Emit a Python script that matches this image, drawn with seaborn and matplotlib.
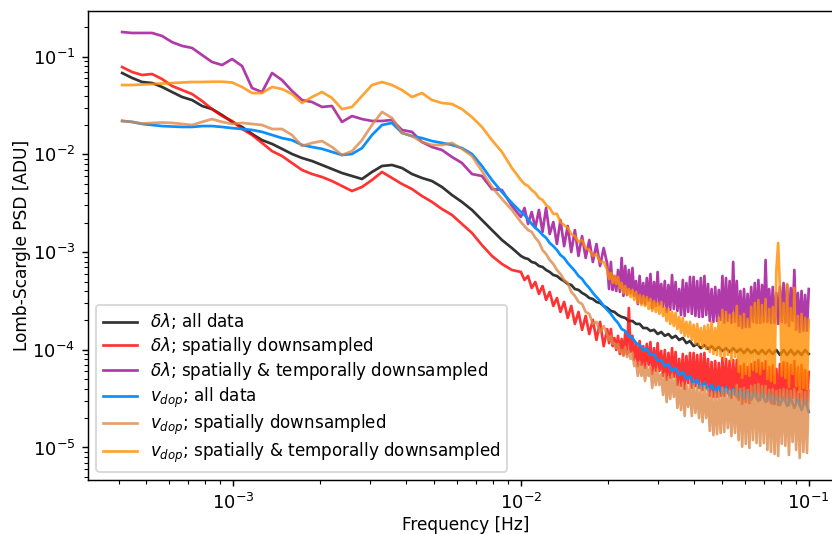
import matplotlib
matplotlib.use("Agg")
import matplotlib.pyplot as plt
import seaborn as sns
import pandas as pd

# ---------------- data ----------------
# frequency grid used by the smoother curves
freq = [4.117e-4, 4.460e-4, 4.831e-4, 5.233e-4, 5.668e-4, 6.140e-4, 6.651e-4, 7.204e-4, 7.804e-4, 8.453e-4,
        9.158e-4, 9.920e-4, 1.0745e-3, 1.164e-3, 1.261e-3, 1.366e-3, 1.479e-3, 1.602e-3, 1.736e-3, 1.880e-3,
        2.037e-3, 2.206e-3, 2.390e-3, 2.589e-3, 2.804e-3, 3.038e-3, 3.291e-3, 3.565e-3, 3.861e-3, 4.183e-3,
        4.531e-3, 4.909e-3, 5.317e-3, 5.760e-3, 6.239e-3, 6.759e-3, 7.321e-3, 7.931e-3, 8.591e-3, 9.306e-3,
        0.01000, 0.01029, 0.01059, 0.01090, 0.01122, 0.01155, 0.01189, 0.01223, 0.01259, 0.01296,
        0.01334, 0.01372, 0.01413, 0.01454, 0.01496, 0.01540, 0.01585, 0.01631, 0.01679, 0.01728,
        0.01778, 0.01830, 0.01884, 0.01939, 0.01995, 0.02054, 0.02113, 0.02175, 0.02239, 0.02304,
        0.02371, 0.02441, 0.02512, 0.02585, 0.02661, 0.02738, 0.02818, 0.02901, 0.02985, 0.03073,
        0.03162, 0.03255, 0.03350, 0.03447, 0.03548, 0.03652, 0.03758, 0.03868, 0.03981, 0.04097,
        0.04217, 0.04340, 0.04467, 0.04597, 0.04732, 0.04870, 0.05012, 0.05158, 0.05309, 0.05464,
        0.05623, 0.05788, 0.05957, 0.06131, 0.06310, 0.06494, 0.06683, 0.06879, 0.07080, 0.07286,
        0.07499, 0.07718, 0.07943, 0.08175, 0.08414, 0.08660, 0.08913, 0.09173, 0.09441, 0.09716,
        0.10000]

# finer frequency grid used by the noisy curves
freq_fine = [4.117e-4, 4.460e-4, 4.831e-4, 5.233e-4, 5.668e-4, 6.140e-4, 6.651e-4, 7.204e-4, 7.804e-4, 8.453e-4,
             9.158e-4, 9.920e-4, 1.0745e-3, 1.164e-3, 1.261e-3, 1.366e-3, 1.479e-3, 1.602e-3, 1.736e-3, 1.880e-3,
             2.037e-3, 2.206e-3, 2.390e-3, 2.589e-3, 2.804e-3, 3.038e-3, 3.291e-3, 3.565e-3, 3.861e-3, 4.183e-3,
             4.531e-3, 4.909e-3, 5.317e-3, 5.760e-3, 6.239e-3, 6.759e-3, 7.321e-3, 7.931e-3, 8.591e-3, 9.306e-3,
             0.01000, 0.01029, 0.01059, 0.01090, 0.01122, 0.01155, 0.01189, 0.01223, 0.01259, 0.01296,
             0.01334, 0.01372, 0.01413, 0.01454, 0.01496, 0.01540, 0.01585, 0.01631, 0.01679, 0.01728,
             0.01778, 0.01830, 0.01884, 0.01939,
             0.01995, 0.02024, 0.02054, 0.02083, 0.02113, 0.02144, 0.02175, 0.02207, 0.02239, 0.02271,
             0.02304, 0.02338, 0.02371, 0.02406, 0.02441, 0.02476, 0.02512, 0.02548, 0.02585, 0.02623,
             0.02661, 0.02699, 0.02738, 0.02778, 0.02818, 0.02859, 0.02901, 0.02943, 0.02985, 0.03029,
             0.03073, 0.03117, 0.03162, 0.03208, 0.03255, 0.03302, 0.03350, 0.03398, 0.03447, 0.03497,
             0.03548, 0.03600, 0.03652, 0.03705, 0.03758, 0.03813, 0.03868, 0.03924, 0.03981, 0.04039,
             0.04097, 0.04157, 0.04217, 0.04278, 0.04340, 0.04403, 0.04467, 0.04532, 0.04597, 0.04664,
             0.04732, 0.04800, 0.04870, 0.04941, 0.05012, 0.05085, 0.05158, 0.05233, 0.05309, 0.05386,
             0.05464, 0.05543, 0.05623, 0.05705, 0.05788, 0.05872, 0.05957, 0.06043, 0.06131, 0.06220,
             0.06310, 0.06402, 0.06494, 0.06589, 0.06683, 0.06780, 0.06879, 0.06979, 0.07080, 0.07183,
             0.07286, 0.07392, 0.07499, 0.07608, 0.07718, 0.07830, 0.07943, 0.08058, 0.08175, 0.08294,
             0.08414, 0.08536, 0.08660, 0.08785, 0.08913, 0.09042, 0.09173, 0.09306, 0.09441, 0.09578,
             0.09716, 0.09857, 0.10000]

dl_all = [0.0681, 0.0606, 0.0551, 0.0538, 0.0490, 0.0435, 0.0387, 0.0360, 0.0313, 0.0291,
          0.0253, 0.0215, 0.0191, 0.0162, 0.0140, 0.0128, 0.0114, 0.0101, 0.00919, 0.00856,
          0.00779, 0.00709, 0.00645, 0.00601, 0.00560, 0.00661, 0.00761, 0.00779, 0.00726, 0.00630,
          0.00574, 0.00534, 0.00464, 0.00384, 0.00326, 0.00270, 0.00213, 0.00168, 0.00133, 0.00110,
          9.13e-4, 8.71e-4, 8.50e-4, 7.92e-4, 7.74e-4, 7.21e-4, 7.04e-4, 6.56e-4, 6.26e-4, 5.83e-4,
          5.70e-4, 5.31e-4, 5.06e-4, 4.72e-4, 4.61e-4, 4.19e-4, 4.10e-4, 3.82e-4, 3.64e-4, 3.39e-4,
          3.31e-4, 3.09e-4, 3.02e-4, 2.81e-4, 2.68e-4, 2.50e-4, 2.44e-4, 2.27e-4, 2.17e-4, 2.12e-4,
          1.97e-4, 1.97e-4, 1.84e-4, 1.84e-4, 1.67e-4, 1.67e-4, 1.56e-4, 1.60e-4, 1.45e-4, 1.52e-4,
          1.39e-4, 1.45e-4, 1.32e-4, 1.39e-4, 1.26e-4, 1.32e-4, 1.17e-4, 1.23e-4, 1.09e-4, 1.15e-4,
          1.04e-4, 1.12e-4, 1.02e-4, 1.09e-4, 9.95e-5, 1.07e-4, 9.73e-5, 1.04e-4, 9.50e-5, 1.04e-4,
          9.50e-5, 1.02e-4, 9.28e-5, 1.02e-4, 9.28e-5, 9.95e-5, 9.06e-5, 9.95e-5, 9.06e-5, 9.95e-5,
          9.06e-5, 9.95e-5, 8.85e-5, 9.95e-5, 8.85e-5, 9.95e-5, 8.85e-5, 9.73e-5, 8.85e-5, 9.95e-5,
          9.06e-5]

dl_spat = [0.0784, 0.0697, 0.0650, 0.0665, 0.0591, 0.0501, 0.0456, 0.0415, 0.0352, 0.0291,
           0.0247, 0.0220, 0.0182, 0.0158, 0.0131, 0.0108, 0.00963, 0.00817, 0.00692, 0.00630,
           0.00587, 0.00534, 0.00475, 0.00422, 0.00464, 0.00547, 0.00661, 0.00574, 0.00498, 0.00442,
           0.00375, 0.00326, 0.00276, 0.00240, 0.00194, 0.00157, 0.00118, 9.13e-4, 7.56e-4, 6.56e-4,
           6.26e-4, 5.18e-4, 5.70e-4, 4.29e-4, 4.94e-4, 3.73e-4, 4.50e-4, 3.24e-4, 3.91e-4, 2.81e-4,
           3.39e-4, 2.44e-4, 3.09e-4, 2.12e-4, 2.81e-4, 1.84e-4, 2.44e-4, 1.60e-4, 2.22e-4, 1.45e-4,
           2.02e-4, 1.26e-4, 1.93e-4, 1.09e-4,
           1.63e-4, 1.17e-4, 1.63e-4, 1.09e-4, 1.32e-4, 9.95e-5, 1.39e-4, 9.06e-5, 1.29e-4, 8.85e-5,
           1.49e-4, 9.06e-5, 2.68e-4, 9.50e-5, 1.39e-4, 7.87e-5, 1.17e-4, 6.83e-5, 1.23e-4, 6.99e-5,
           1.09e-4, 6.52e-5, 1.15e-4, 6.99e-5, 1.20e-4, 5.65e-5, 1.04e-4, 6.07e-5, 1.17e-4, 6.07e-5,
           9.72e-5, 5.40e-5, 9.95e-5, 4.91e-5, 9.28e-5, 5.15e-5, 1.04e-4, 5.28e-5, 9.50e-5, 4.36e-5,
           8.06e-5, 4.26e-5, 9.06e-5, 3.97e-5, 8.64e-5, 4.57e-5, 9.28e-5, 4.07e-5, 9.28e-5, 4.26e-5,
           8.85e-5, 4.07e-5, 9.06e-5, 3.88e-5, 9.28e-5, 4.07e-5, 8.06e-5, 3.37e-5, 7.50e-5, 3.29e-5,
           7.68e-5, 3.29e-5, 7.33e-5, 3.37e-5, 8.25e-5, 3.37e-5, 8.06e-5, 3.62e-5, 7.68e-5, 3.21e-5,
           7.87e-5, 3.45e-5, 7.87e-5, 3.07e-5, 6.83e-5, 2.79e-5, 7.16e-5, 2.92e-5, 6.67e-5, 2.85e-5,
           7.16e-5, 3.29e-5, 7.50e-5, 3.14e-5, 7.87e-5, 3.07e-5, 7.33e-5, 3.29e-5, 7.68e-5, 3.00e-5,
           6.67e-5, 2.85e-5, 6.99e-5, 2.79e-5, 6.37e-5, 2.72e-5, 7.16e-5, 3.14e-5, 7.50e-5, 3.07e-5,
           7.33e-5, 2.72e-5, 6.99e-5, 3.21e-5, 7.68e-5, 2.92e-5, 6.67e-5, 2.66e-5, 6.99e-5, 2.79e-5,
           6.21e-5, 2.72e-5, 5.93e-5]

dl_spat_temp = [0.179, 0.175, 0.175, 0.175, 0.163, 0.141, 0.129, 0.123, 0.104, 0.0883,
                0.0822, 0.0947, 0.0803, 0.0478, 0.0435, 0.0681, 0.0577, 0.0446, 0.0360, 0.0344,
                0.0306, 0.0313, 0.0215, 0.0247, 0.0230, 0.0220, 0.0220, 0.0225, 0.0178, 0.0170,
                0.0134, 0.0119, 0.0111, 0.00941, 0.00817, 0.00630, 0.00601, 0.00442, 0.00432, 0.00297,
                2.29e-3, 2.83e-3, 1.94e-3, 2.57e-3, 1.77e-3, 2.70e-3, 1.61e-3, 2.83e-3, 1.53e-3, 2.03e-3,
                1.21e-3, 2.13e-3, 1.15e-3, 1.85e-3, 1.00e-3, 1.68e-3, 9.13e-4, 1.46e-3, 8.71e-4, 1.33e-3,
                7.92e-4, 1.21e-3, 7.21e-4, 1.10e-3,
                7.56e-4, 4.19e-4, 7.92e-4, 4.10e-4, 5.70e-4, 4.00e-4, 6.56e-4, 3.91e-4, 8.71e-4, 3.56e-4,
                7.21e-4, 3.64e-4, 6.56e-4, 3.82e-4, 6.88e-4, 3.56e-4, 5.06e-4, 2.94e-4, 5.70e-4, 3.02e-4,
                4.83e-4, 2.94e-4, 5.43e-4, 3.16e-4, 5.97e-4, 2.68e-4, 4.94e-4, 2.81e-4, 6.26e-4, 2.87e-4,
                4.72e-4, 2.75e-4, 5.06e-4, 2.44e-4, 4.61e-4, 2.56e-4, 5.83e-4, 2.62e-4, 4.94e-4, 2.50e-4,
                4.19e-4, 2.27e-4, 5.18e-4, 2.22e-4, 4.83e-4, 2.44e-4, 5.57e-4, 2.33e-4, 5.57e-4, 2.22e-4,
                5.06e-4, 2.17e-4, 5.43e-4, 2.17e-4, 5.70e-4, 2.27e-4, 4.72e-4, 1.97e-4, 4.19e-4, 1.93e-4,
                4.40e-4, 1.97e-4, 4.10e-4, 2.02e-4, 5.70e-4, 1.88e-4, 5.43e-4, 1.97e-4, 5.06e-4, 1.88e-4,
                7.92e-4, 1.93e-4, 5.06e-4, 1.75e-4, 4.00e-4, 1.67e-4, 4.19e-4, 1.71e-4, 3.73e-4, 1.71e-4,
                4.40e-4, 1.93e-4, 4.83e-4, 1.88e-4, 5.18e-4, 1.88e-4, 4.61e-4, 1.93e-4, 8.30e-4, 1.93e-4,
                4.19e-4, 1.88e-4, 4.40e-4, 1.88e-4, 3.82e-4, 1.84e-4, 4.40e-4, 1.93e-4, 4.83e-4, 1.88e-4,
                4.61e-4, 1.75e-4, 4.29e-4, 1.97e-4, 6.56e-4, 1.60e-4, 3.82e-4, 1.52e-4, 4.00e-4, 1.56e-4,
                3.64e-4, 1.56e-4, 4.19e-4]

v_all = [0.0220, 0.0215, 0.0205, 0.0200, 0.0195, 0.0193, 0.0191, 0.0191, 0.0195, 0.0195,
         0.0191, 0.0186, 0.0182, 0.0178, 0.0170, 0.0158, 0.0147, 0.0140, 0.0125, 0.0119,
         0.0114, 0.0106, 0.00986, 0.0101, 0.0116, 0.0158, 0.0200, 0.0210, 0.0166, 0.0154,
         0.0147, 0.0137, 0.0131, 0.0125, 0.0116, 0.0101, 0.00761, 0.00547, 0.00412, 0.00318,
         2.57e-3, 2.40e-3, 2.18e-3, 1.94e-3, 1.77e-3, 1.65e-3, 1.50e-3, 1.40e-3, 1.24e-3, 1.15e-3,
         1.05e-3, 9.34e-4, 8.71e-4, 7.74e-4, 7.04e-4, 6.41e-4, 5.70e-4, 5.31e-4, 4.72e-4, 4.29e-4,
         3.82e-4, 3.47e-4, 3.16e-4, 2.81e-4, 2.56e-4, 2.33e-4, 2.07e-4, 1.88e-4, 1.63e-4, 1.56e-4,
         1.39e-4, 1.32e-4, 1.17e-4, 1.12e-4, 9.95e-5, 1.02e-4, 8.85e-5, 9.06e-5, 7.68e-5, 7.87e-5,
         6.83e-5, 7.16e-5, 6.07e-5, 6.52e-5, 5.52e-5, 5.93e-5, 5.03e-5, 5.40e-5, 4.47e-5, 4.91e-5,
         4.07e-5, 4.58e-5, 3.88e-5, 4.36e-5, 3.70e-5, 4.26e-5, 3.53e-5, 4.16e-5, 3.37e-5, 3.97e-5,
         3.29e-5, 3.88e-5, 3.14e-5, 3.79e-5, 3.07e-5, 3.70e-5, 2.99e-5, 3.62e-5, 2.92e-5, 3.53e-5,
         2.79e-5, 3.37e-5, 2.72e-5, 3.29e-5, 2.66e-5, 3.21e-5, 2.54e-5, 3.14e-5, 2.42e-5, 3.07e-5,
         2.31e-5]

v_spat = [0.0220, 0.0215, 0.0207, 0.0210, 0.0212, 0.0210, 0.0205, 0.0200, 0.0215, 0.0230,
          0.0215, 0.0205, 0.0210, 0.0205, 0.0200, 0.0182, 0.0182, 0.0158, 0.0122, 0.0131,
          0.0137, 0.0119, 0.00986, 0.0108, 0.0140, 0.0200, 0.0272, 0.0236, 0.0166, 0.0154,
          0.0134, 0.0125, 0.0125, 0.0131, 0.0114, 0.00963, 0.00676, 0.00464, 0.00350, 0.00270,
          2.03e-3, 1.85e-3, 1.68e-3, 1.61e-3, 1.40e-3, 1.27e-3, 1.05e-3, 9.56e-4, 8.30e-4, 7.56e-4,
          6.56e-4, 5.97e-4, 5.18e-4, 4.83e-4, 3.91e-4, 3.56e-4, 3.09e-4, 2.94e-4, 2.44e-4, 2.33e-4,
          1.84e-4, 1.93e-4, 1.52e-4, 1.75e-4,
          1.42e-4, 1.26e-4, 1.39e-4, 1.15e-4, 1.17e-4, 1.04e-4, 1.15e-4, 9.50e-5, 9.95e-5, 8.64e-5,
          1.07e-4, 8.44e-5, 9.72e-5, 8.06e-5, 9.28e-5, 6.83e-5, 7.50e-5, 5.40e-5, 7.50e-5, 5.40e-5,
          6.83e-5, 4.80e-5, 6.67e-5, 5.40e-5, 6.67e-5, 4.07e-5, 6.07e-5, 4.36e-5, 6.37e-5, 4.36e-5,
          5.65e-5, 3.45e-5, 5.65e-5, 2.92e-5, 5.28e-5, 3.14e-5, 5.52e-5, 3.29e-5, 5.03e-5, 2.54e-5,
          4.36e-5, 2.42e-5, 4.57e-5, 2.10e-5, 4.36e-5, 2.60e-5, 4.47e-5, 2.10e-5, 4.47e-5, 2.26e-5,
          4.16e-5, 2.00e-5, 4.26e-5, 1.82e-5, 4.26e-5, 2.00e-5, 3.97e-5, 1.48e-5, 3.70e-5, 1.34e-5,
          3.70e-5, 1.37e-5, 3.62e-5, 1.41e-5, 4.07e-5, 1.44e-5, 3.97e-5, 1.58e-5, 3.79e-5, 1.31e-5,
          3.88e-5, 1.41e-5, 4.36e-5, 1.19e-5, 3.97e-5, 1.02e-5, 4.07e-5, 1.09e-5, 3.88e-5, 9.88e-6,
          4.26e-5, 1.19e-5, 4.36e-5, 1.11e-5, 4.47e-5, 1.04e-5, 4.26e-5, 1.11e-5, 4.26e-5, 9.43e-6,
          3.88e-5, 9.00e-6, 3.97e-5, 8.58e-6, 3.79e-5, 8.19e-6, 3.88e-5, 1.09e-5, 3.97e-5, 1.04e-5,
          3.88e-5, 8.38e-6, 3.79e-5, 1.14e-5, 3.97e-5, 9.43e-6, 3.70e-5, 7.81e-6, 3.79e-5, 9.00e-6,
          3.70e-5, 8.79e-6, 3.88e-5]

v_spat_temp = [0.0513, 0.0513, 0.0519, 0.0525, 0.0532, 0.0538, 0.0545, 0.0551, 0.0551, 0.0555,
               0.0555, 0.0545, 0.0490, 0.0425, 0.0425, 0.0490, 0.0467, 0.0415, 0.0336, 0.0387,
               0.0435, 0.0378, 0.0291, 0.0306, 0.0396, 0.0513, 0.0551, 0.0513, 0.0456, 0.0387,
               0.0425, 0.0360, 0.0336, 0.0328, 0.0291, 0.0241, 0.0191, 0.0140, 0.0106, 0.00726,
               5.47e-3, 4.98e-3, 4.75e-3, 4.32e-3, 4.03e-3, 3.58e-3, 3.42e-3, 3.04e-3, 2.83e-3, 2.46e-3,
               2.46e-3, 2.03e-3, 1.89e-3, 1.77e-3, 1.53e-3, 1.46e-3, 1.27e-3, 1.33e-3, 1.10e-3, 1.05e-3,
               9.13e-4, 9.56e-4, 7.92e-4, 7.92e-4,
               6.56e-4, 5.31e-4, 6.12e-4, 4.83e-4, 5.70e-4, 4.72e-4, 5.57e-4, 4.29e-4, 4.83e-4, 3.82e-4,
               4.50e-4, 3.64e-4, 4.19e-4, 3.47e-4, 4.10e-4, 3.24e-4, 3.91e-4, 3.02e-4, 3.64e-4, 2.87e-4,
               3.56e-4, 2.81e-4, 3.47e-4, 2.62e-4, 3.31e-4, 2.50e-4, 3.16e-4, 2.44e-4, 3.02e-4, 2.33e-4,
               3.09e-4, 2.22e-4, 2.68e-4, 1.97e-4, 2.62e-4, 1.84e-4, 2.44e-4, 1.75e-4, 2.38e-4, 1.63e-4,
               2.17e-4, 1.49e-4, 2.12e-4, 1.39e-4, 1.93e-4, 1.36e-4, 1.93e-4, 1.26e-4, 1.80e-4, 1.15e-4,
               1.84e-4, 1.12e-4, 1.67e-4, 1.07e-4, 1.75e-4, 1.02e-4, 1.80e-4, 9.50e-5, 1.93e-4, 9.06e-5,
               1.67e-4, 8.85e-5, 2.12e-4, 8.64e-5, 2.56e-4, 7.87e-5, 2.44e-4, 8.85e-5, 2.27e-4, 7.50e-5,
               2.38e-4, 8.44e-5, 2.81e-4, 5.93e-5, 2.22e-4, 5.15e-5, 2.33e-4, 5.65e-5, 2.07e-4, 5.40e-5,
               2.75e-4, 6.21e-5, 3.02e-4, 5.93e-5, 3.24e-4, 5.65e-5, 2.87e-4, 6.37e-5, 3.31e-4, 5.03e-5,
               2.62e-4, 4.80e-5, 2.75e-4, 4.57e-5, 6.56e-4, 1.24e-3, 4.10e-4, 5.40e-5, 3.02e-4, 5.15e-5,
               4.72e-4, 4.16e-5, 2.68e-4, 5.65e-5, 4.29e-4, 4.26e-5, 2.22e-4, 3.70e-5, 2.33e-4, 4.07e-5,
               2.12e-4, 3.97e-5, 2.02e-4]

labels = [r"$\delta\lambda$; all data",
          r"$\delta\lambda$; spatially downsampled",
          r"$\delta\lambda$; spatially & temporally downsampled",
          r"$v_{dop}$; all data",
          r"$v_{dop}$; spatially downsampled",
          r"$v_{dop}$; spatially & temporally downsampled"]
series = [dl_all, dl_spat, dl_spat_temp, v_all, v_spat, v_spat_temp]
grids = [freq, freq_fine, freq_fine, freq, freq_fine, freq_fine]

# ---------------- styling ----------------
colors = ["#000000", "#ff0000", "#9c0992", "#0a8fff", "#de8848", "#ff8c00"]
alphas = [0.8, 0.8, 0.8, 1.0, 0.8, 0.8]

for s, g in zip(series, grids):
    assert len(s) == len(g), (len(s), len(g))

df = pd.concat([pd.DataFrame({"freq": g, "psd": s, "series": lab})
                for s, g, lab in zip(series, grids, labels)], ignore_index=True)

W, H, DPI = 832, 534, 130
fig = plt.figure(figsize=(W / DPI, H / DPI), dpi=DPI)
ax = fig.add_axes([88 / W, 54 / H, 755 / W, 469 / H])
ax.set_xscale("log")
ax.set_yscale("log")

for lab, col, a in zip(labels, colors, alphas):
    sub = df[df["series"] == lab]
    sns.lineplot(data=sub, x="freq", y="psd", ax=ax, color=col, alpha=a,
                 linewidth=1.5, estimator=None, sort=False, label=lab)

ax.set_xlim(10 ** -3.504, 10 ** -0.881)
ax.set_ylim(10 ** -5.333, 10 ** -0.532)
ax.set_xlabel("Frequency [Hz]", fontsize=9.4, labelpad=2)
ax.set_ylabel("Lomb-Scargle PSD [ADU]", fontsize=9.4, labelpad=1)
ax.legend(loc="lower left", fontsize=9.3, labelspacing=0.2)

fig.savefig("out.png", dpi=DPI)
